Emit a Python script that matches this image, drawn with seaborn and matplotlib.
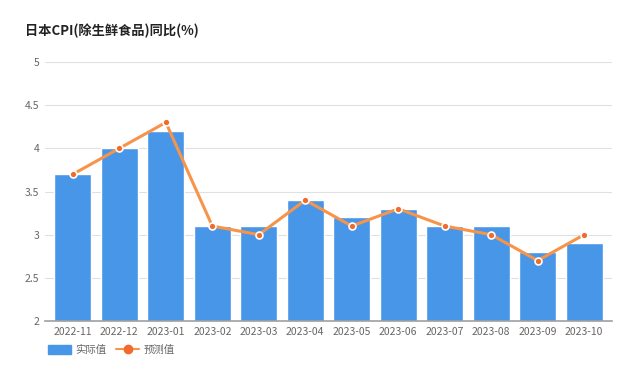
import matplotlib
matplotlib.use('Agg')
import matplotlib.pyplot as plt
from matplotlib.patches import Patch
from matplotlib.lines import Line2D
import seaborn as sns
import pandas as pd

# ─────────────────────────────────────────────
# DATA
# ─────────────────────────────────────────────
months = ['2022-11', '2022-12', '2023-01', '2023-02', '2023-03', '2023-04',
          '2023-05', '2023-06', '2023-07', '2023-08', '2023-09', '2023-10']
actual = [3.7, 4.0, 4.2, 3.1, 3.1, 3.4, 3.2, 3.3, 3.1, 3.1, 2.8, 2.9]
forecast = [3.7, 4.0, 4.3, 3.1, 3.0, 3.4, 3.1, 3.3, 3.1, 3.0, 2.7, 3.0]
yticks = [2, 2.5, 3, 3.5, 4, 4.5, 5]

df = pd.DataFrame({'month': months, 'actual': actual, 'forecast': forecast})

# ─────────────────────────────────────────────
# STYLE
# ─────────────────────────────────────────────
sns.set_theme(style="white")
plt.rcParams['font.family'] = ['Noto Sans CJK SC', 'DejaVu Sans']

BAR = '#4796E8'
LINE = '#F7944A'
DOT = '#F26A2C'
GRID = '#E0E0E0'
TXT = '#666666'

fig = plt.figure(figsize=(6.4, 3.69), dpi=100)
ax = fig.add_axes([0.0703, 0.130, 0.886, 0.702])

sns.barplot(data=df, x='month', y='actual', color=BAR, width=0.8,
            saturation=1, ax=ax, zorder=2)
sns.pointplot(data=df, x='month', y='forecast', color=LINE, ax=ax,
              markers='o', linewidth=2.2, markersize=5,
              markerfacecolor=DOT, markeredgecolor='white',
              markeredgewidth=1.2, zorder=3)

ax.set_ylim(2, 5)
ax.set_yticks(yticks)
ax.set_yticklabels(['2', '2.5', '3', '3.5', '4', '4.5', '5'])
ax.set_xlim(-0.6, 11.6)
ax.yaxis.grid(True, color=GRID, linewidth=0.8, zorder=0)
ax.set_axisbelow(True)
for s in ['top', 'right', 'left']:
    ax.spines[s].set_visible(False)
ax.spines['bottom'].set_color('#A0A0A0')
ax.spines['bottom'].set_linewidth(1.2)
ax.tick_params(axis='both', length=0, labelsize=7.5, colors=TXT, pad=4)
ax.set_xlabel('')
ax.set_ylabel('')

fig.text(0.039, 0.915, '日本CPI(除生鲜食品)同比(%)', fontsize=9.5,
         fontweight='bold', color='#222222', va='center')

handles = [Patch(facecolor=BAR, edgecolor=BAR),
           Line2D([0], [0], color=LINE, lw=1.5, marker='o', markersize=6,
                  markerfacecolor=DOT, markeredgecolor=DOT)]
fig.legend(handles, ['实际值', '预测值'], loc='center left',
           bbox_to_anchor=(0.06, 0.052), ncol=2, frameon=False,
           fontsize=7.5, labelcolor=TXT, handlelength=2.2, handleheight=1.0,
           columnspacing=1.0, handletextpad=0.4)

plt.savefig('out.png', dpi=100)
plt.close()
